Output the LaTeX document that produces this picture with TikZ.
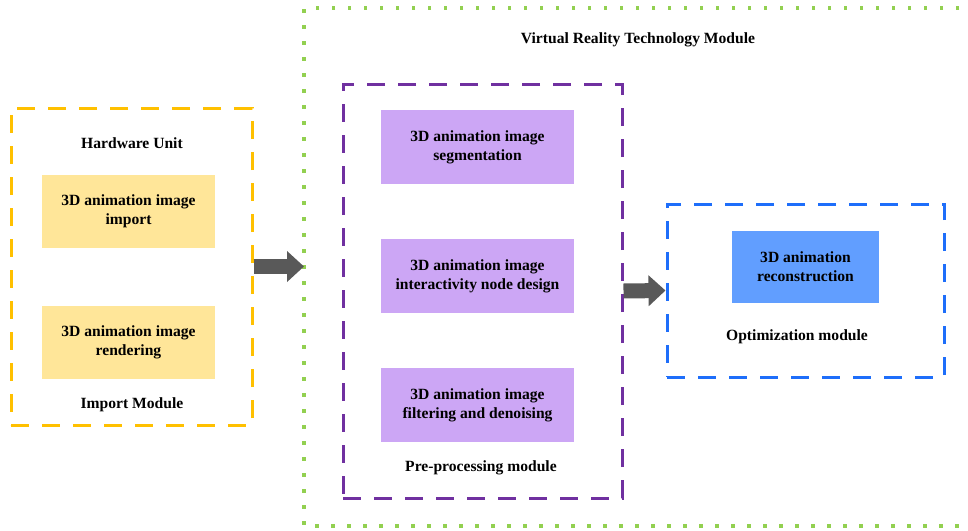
\documentclass[tikz,border=0pt]{standalone}
\usepackage{fontspec}
\setmainfont{Liberation Serif}
\usetikzlibrary{arrows.meta}
\definecolor{ydash}{RGB}{255,192,0}
\definecolor{yfill}{RGB}{255,230,153}
\definecolor{pdash}{RGB}{112,48,160}
\definecolor{pfill}{RGB}{204,166,245}
\definecolor{bdash}{RGB}{30,110,250}
\definecolor{bfillc}{RGB}{97,158,255}
\definecolor{gdot}{RGB}{146,208,80}
\definecolor{arrgray}{RGB}{89,89,89}
\tikzset{
  lbl/.style={font=\bfseries\fontsize{15.6}{18.7}\selectfont, align=center, inner sep=0pt},
  container/.style={draw=#1, line width=3pt, dash pattern=on 18pt off 13pt, inner sep=0pt},
  fillbox/.style={fill=#1, draw=none, inner sep=0pt, lbl},
  fatarrow/.style={draw=arrgray, line width=15pt, -{Triangle[length=17pt,width=30pt,fill=arrgray]}}
}
\begin{document}
\begin{tikzpicture}[x=1pt,y=-1pt]
\useasboundingbox (0,0) rectangle (968,530);
% Virtual reality outer dotted region
\coordinate (vrtr) at (975,8);
\coordinate (vrtl) at (304,8);
\coordinate (vrbl) at (304,526);
\coordinate (vrbr) at (975,526);
\draw[gdot, line width=3.5pt, dash pattern=on 3.5pt off 12.5pt] (vrtr) -- (vrtl) -- (vrbl) -- (vrbr);
\node[lbl] (vrtitle) at (638,40) {Virtual Reality Technology Module};
% Import module
\node[container=ydash, minimum width=241pt, minimum height=317pt] (imp) at (131.5,266.5) {};
\node[lbl] (hw) at (132,143) {Hardware Unit};
\node[fillbox=yfill, minimum width=173pt, minimum height=73pt] (y1) at (128.5,211.5) {3D animation image\\import};
\node[fillbox=yfill, minimum width=173pt, minimum height=73pt] (y2) at (128.5,342.5) {3D animation image\\rendering};
\node[lbl] (impl) at (132,405) {Import Module};
% Pre-processing module
\node[container=pdash, minimum width=279pt, minimum height=414pt] (pre) at (482.5,291) {};
\node[fillbox=pfill, minimum width=193pt, minimum height=74pt] (p1) at (477.5,147) {3D animation image\\segmentation};
\node[fillbox=pfill, minimum width=193pt, minimum height=74pt] (p2) at (477.5,276) {3D animation image\\interactivity node design};
\node[fillbox=pfill, minimum width=193pt, minimum height=74pt] (p3) at (477.5,405) {3D animation image\\filtering and denoising};
\node[lbl] (prel) at (481,468) {Pre-processing module};
% Optimization module
\node[container=bdash, minimum width=277pt, minimum height=173pt] (opt) at (805.5,290.5) {};
\node[fillbox=bfillc, minimum width=147pt, minimum height=72pt] (b1) at (805.5,267) {3D animation\\reconstruction};
\node[lbl] (optl) at (797,337) {Optimization module};
% arrows
\draw[fatarrow] (imp.east) -- (imp.east -| vrtl);
\draw[fatarrow] (pre.east) -- (opt.west);
\end{tikzpicture}
\end{document}
